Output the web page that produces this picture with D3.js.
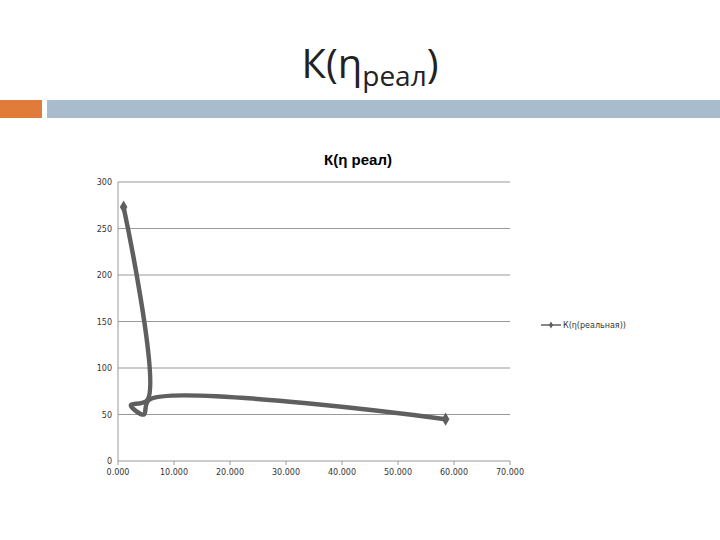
<!DOCTYPE html><html><head><meta charset="utf-8"><script src="https://cdn.jsdelivr.net/npm/d3@7"></script>
<style>body{margin:0;background:#fff}</style></head><body><svg id="c" width="720" height="540"></svg>
<script>
const xVals=[1.0,5.3,2.3,4.6,5.6,58.5];
const yVals=[273,66,60,50,66,45];
const markerIdx=[0,5];
const xTicks=[0,10,20,30,40,50,60,70];
const yTicks=[0,50,100,150,200,250,300];
const svg=d3.select("#c");
svg.append("rect").attr("x",0).attr("y",100).attr("width",42).attr("height",18).attr("fill","#e07b39");
svg.append("rect").attr("x",47).attr("y",100).attr("width",673).attr("height",18).attr("fill","#a9bccd");
const t=svg.append("text").attr("x",370).attr("y",78).attr("text-anchor","middle").attr("font-family","Open Sans, sans-serif").attr("font-size",40).attr("fill","#222");
t.append("tspan").text("К(η");t.append("tspan").attr("font-size",28).attr("dy",8).text("реал");t.append("tspan").attr("dy",-8).text(")");
svg.append("text").attr("x",358).attr("y",165).attr("text-anchor","middle").attr("font-family","Liberation Sans, sans-serif").attr("font-size",15).attr("font-weight","bold").text("К(η реал)");
const x=d3.scaleLinear().domain([0,70]).range([118,510]);
const y=d3.scaleLinear().domain([0,300]).range([461,182]);
const g=svg.append("g");
yTicks.forEach(v=>g.append("line").attr("x1",118).attr("x2",510).attr("y1",y(v)).attr("y2",y(v)).attr("stroke","#999"));
g.append("line").attr("x1",118).attr("x2",118).attr("y1",182).attr("y2",461).attr("stroke","#999");
yTicks.forEach(v=>g.append("text").attr("x",112).attr("y",y(v)+3).attr("text-anchor","end").attr("font-family","DejaVu Sans").attr("font-size",8).attr("fill","#333").text(v));
xTicks.forEach(v=>{g.append("line").attr("x1",x(v)).attr("x2",x(v)).attr("y1",461).attr("y2",465).attr("stroke","#999");
g.append("text").attr("x",x(v)).attr("y",475).attr("text-anchor","middle").attr("font-family","DejaVu Sans").attr("font-size",8).attr("fill","#333").text(d3.format(",.3f")(v).replace(",", "."));});
const pts=xVals.map((v,i)=>[x(v),y(yVals[i])]);
g.append("path").attr("d",d3.line().curve(d3.curveCatmullRom.alpha(0.5))(pts)).attr("fill","none").attr("stroke","#5f5f5f").attr("stroke-width",4.5);
markerIdx.forEach(i=>g.append("path").attr("d",d3.symbol(d3.symbolDiamond,50)()).attr("transform",`translate(${pts[i]})`).attr("fill","#5f5f5f"));
svg.append("line").attr("x1",541).attr("x2",561).attr("y1",325).attr("y2",325).attr("stroke","#5f5f5f").attr("stroke-width",1.5);
svg.append("path").attr("d",d3.symbol(d3.symbolDiamond,14)()).attr("transform","translate(551,325)").attr("fill","#5f5f5f");
svg.append("text").attr("x",563).attr("y",328).attr("font-family","DejaVu Sans").attr("font-size",8).attr("fill","#333").text("К(η(реальная))");
</script></body></html>
